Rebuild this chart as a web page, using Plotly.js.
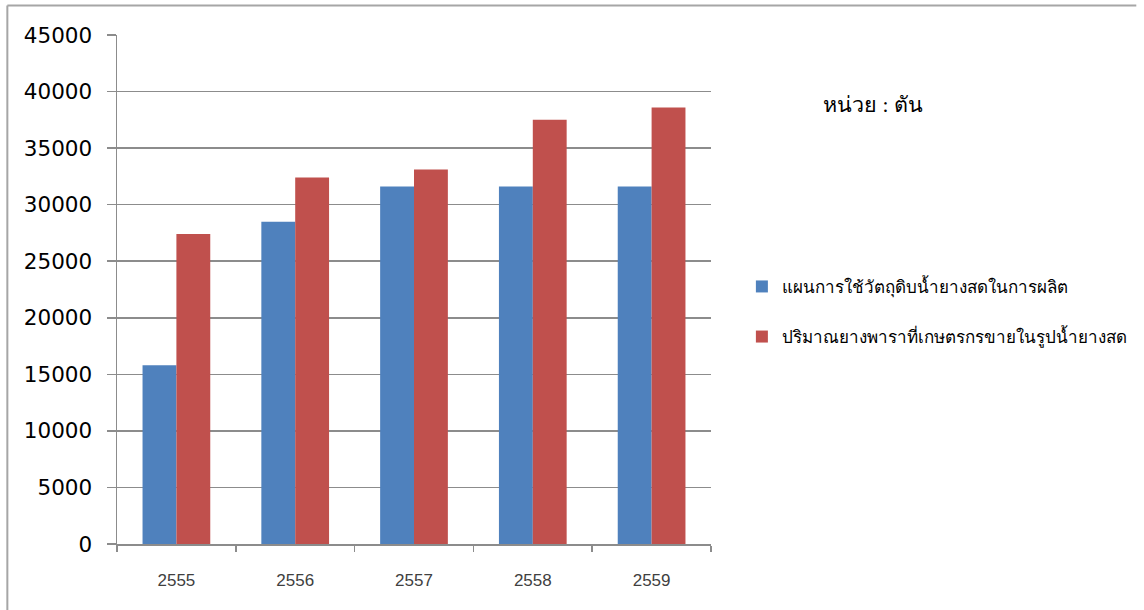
<!DOCTYPE html>
<html>
<head>
<meta charset="utf-8">
<script src="https://cdn.plot.ly/plotly-3.0.1.min.js"></script>
<style>html,body{margin:0;padding:0;background:#fff;}#chart{width:1144px;height:610px;}</style>
</head>
<body>
<div id="chart"></div>
<script>
const years = ["2555", "2556", "2557", "2558", "2559"];
const planName = "แผนการใช้วัตถุดิบน้ำยางสดในการผลิต";
const planValues = [15800, 28500, 31600, 31600, 31600];
const soldName = "ปริมาณยางพาราที่เกษตรกรขายในรูปน้ำยางสด";
const soldValues = [27400, 32400, 33100, 37500, 38600];
const yTicks = [0, 5000, 10000, 15000, 20000, 25000, 30000, 35000, 40000, 45000];
const unitText = "หน่วย : ตัน";

const traces = [
  {type: "bar", name: planName, x: years, y: planValues, legendgroup: "a",
   marker: {color: "#4F81BD", line: {width: 0}}, hoverinfo: "x+y"},
  {type: "bar", name: soldName, x: years, y: soldValues, legendgroup: "b",
   marker: {color: "#C0504D", line: {width: 0}}, hoverinfo: "x+y"}
];

const layout = {
  width: 1144, height: 610,
  margin: {l: 117, r: 431, t: 35, b: 66, pad: 0},
  paper_bgcolor: "#ffffff", plot_bgcolor: "#ffffff",
  barmode: "group", bargap: 0.43, bargroupgap: 0,
  showlegend: true,
  legend: {x: 1.052, y: 0.456, xanchor: "left", yanchor: "middle",
           traceorder: "grouped", tracegroupgap: 25,
           font: {family: "Tahoma, 'DejaVu Sans', sans-serif", size: 17, color: "#000"},
           bgcolor: "rgba(0,0,0,0)", itemwidth: 30},
  xaxis: {type: "category", showgrid: false, showline: true, linecolor: "#8c8c8c", linewidth: 1.5,
          ticks: "outside", tickson: "boundaries", ticklen: 6, tickcolor: "#8c8c8c", tickwidth: 1.5,
          ticklabelstandoff: 20,
          tickfont: {family: "'Liberation Sans', Arial, sans-serif", size: 17, color: "#404040"},
          fixedrange: true},
  yaxis: {range: [0, 45000], tickmode: "array", tickvals: yTicks, ticktext: yTicks.map(String),
          showgrid: true, gridcolor: "#8c8c8c", gridwidth: 1.5,
          showline: true, linecolor: "#8c8c8c", linewidth: 1.5,
          ticks: "outside", ticklen: 9, tickcolor: "#8c8c8c", tickwidth: 1.5,
          ticklabelstandoff: 10, zeroline: false,
          tickfont: {family: "'DejaVu Sans', Verdana, sans-serif", size: 21.5, color: "#000"},
          fixedrange: true},
  annotations: [
    {xref: "paper", yref: "paper", x: 1.272, y: 0.862, xanchor: "center", yanchor: "middle",
     text: unitText, showarrow: false,
     font: {family: "'Liberation Serif', 'Times New Roman', serif", size: 21.5, color: "#000"}}
  ],
  shapes: [
    {type: "line", xref: "paper", yref: "paper", x0: -0.1846, x1: 1.716, y0: 1.058, y1: 1.058,
     line: {color: "#a6a6a6", width: 2}},
    {type: "line", xref: "paper", yref: "paper", x0: -0.1846, x1: -0.1846, y0: 1.058, y1: -0.2,
     line: {color: "#a6a6a6", width: 2}}
  ]
};

Plotly.newPlot("chart", traces, layout, {displayModeBar: false, staticPlot: true});
</script>
</body>
</html>
